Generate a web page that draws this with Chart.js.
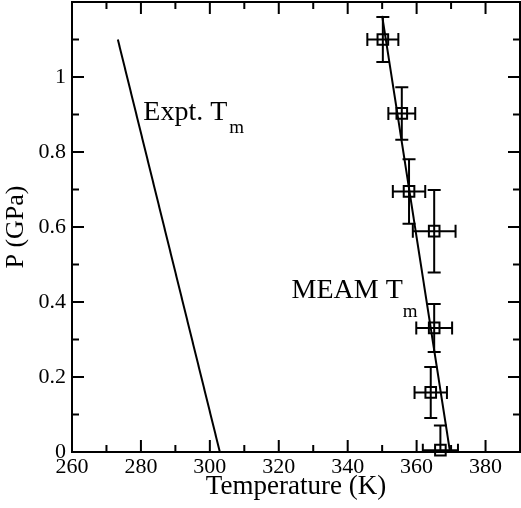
<!DOCTYPE html>
<html>
<head>
<meta charset="utf-8">
<script src="https://cdn.jsdelivr.net/npm/chart.js@4/dist/chart.umd.min.js"></script>
<style>
  html, body { margin: 0; padding: 0; background: #fff; }
  #wrap { width: 521px; height: 508px; position: relative; }
</style>
</head>
<body>
<div id="wrap"><canvas id="meltChart"></canvas></div>
<script>
// MEAM melting points with error bars
const meamT    = [350.2, 355.7, 357.8, 365.1, 365.1, 364.1, 366.9];
const meamP    = [1.100, 0.903, 0.695, 0.589, 0.331, 0.159, 0.005];
const meamTErr = [4.5, 3.9, 4.7, 6.2, 5.2, 4.7, 5.1];
const meamPErr = [0.060, 0.070, 0.086, 0.110, 0.064, 0.068, 0.066];

// fitted MEAM line and experimental melting line
const fitT  = [350.0, 369.7];
const fitP  = [1.163, 0];
const exptT = [273.3, 302.9];
const exptP = [1.10, 0];

// axes
const xLabelTicks = [260, 280, 300, 320, 340, 360, 380];
const xMinorTicks = [270, 290, 310, 330, 350, 370];
const yLabelTicks = [0, 0.2, 0.4, 0.6, 0.8, 1.0];
const yMinorTicks = [0.1, 0.3, 0.5, 0.7, 0.9, 1.1];

const FONT = "'Liberation Serif', 'Times New Roman', serif";

const toXY = (xs, ys) => xs.map((x, i) => ({ x, y: ys[i] }));

// no label overhang padding: the plot box is fixed
const noPad = s => { s.paddingTop = s.paddingBottom = s.paddingLeft = s.paddingRight = 0; };

// Inward tick marks on all four sides plus the frame
const frameTicks = {
  id: 'frameTicks',
  afterDraw(chart) {
    const { ctx, chartArea: a, scales: { x, y } } = chart;
    ctx.save();
    ctx.strokeStyle = '#000';
    ctx.lineWidth = 2;
    ctx.strokeRect(a.left, a.top, a.right - a.left, a.bottom - a.top);
    ctx.beginPath();
    const xt = (v, len) => {
      const px = x.getPixelForValue(v);
      ctx.moveTo(px, a.bottom); ctx.lineTo(px, a.bottom - len);
      ctx.moveTo(px, a.top);    ctx.lineTo(px, a.top + len);
    };
    const yt = (v, len) => {
      const py = y.getPixelForValue(v);
      ctx.moveTo(a.left, py);  ctx.lineTo(a.left + len, py);
      ctx.moveTo(a.right, py); ctx.lineTo(a.right - len, py);
    };
    xLabelTicks.forEach(v => xt(v, 12));
    xMinorTicks.forEach(v => xt(v, 7));
    yLabelTicks.forEach(v => yt(v, 12));
    yMinorTicks.forEach(v => yt(v, 7));
    ctx.stroke();
    ctx.restore();
  },
};

// Error bars for the MEAM points
const errorBars = {
  id: 'errorBars',
  afterDatasetsDraw(chart) {
    const { ctx, chartArea: a, scales: { x, y } } = chart;
    const cap = 6.5;
    ctx.save();
    ctx.beginPath();
    ctx.rect(a.left, a.top, a.right - a.left, a.bottom - a.top);
    ctx.clip();
    ctx.strokeStyle = '#000';
    ctx.lineWidth = 2;
    ctx.beginPath();
    meamT.forEach((t, i) => {
      const px = x.getPixelForValue(t);
      const py = y.getPixelForValue(meamP[i]);
      const y0 = y.getPixelForValue(meamP[i] - meamPErr[i]);
      const y1 = y.getPixelForValue(meamP[i] + meamPErr[i]);
      const x0 = x.getPixelForValue(t - meamTErr[i]);
      const x1 = x.getPixelForValue(t + meamTErr[i]);
      ctx.moveTo(px, y0); ctx.lineTo(px, y1);
      ctx.moveTo(px - cap, y0); ctx.lineTo(px + cap, y0);
      ctx.moveTo(px - cap, y1); ctx.lineTo(px + cap, y1);
      ctx.moveTo(x0, py); ctx.lineTo(x1, py);
      ctx.moveTo(x0, py - cap); ctx.lineTo(x0, py + cap);
      ctx.moveTo(x1, py - cap); ctx.lineTo(x1, py + cap);
    });
    ctx.stroke();
    ctx.restore();
  },
};

// "Expt. Tm" and "MEAM Tm" labels, anchored in data coordinates
const curveLabels = {
  id: 'curveLabels',
  afterDraw(chart) {
    const { ctx, scales: { x, y } } = chart;
    const put = (t, p, main, sub, gap, drop) => {
      const px = x.getPixelForValue(t);
      const py = y.getPixelForValue(p);
      ctx.font = `28px ${FONT}`;
      ctx.fillText(main, px, py);
      const w = ctx.measureText(main).width;
      ctx.font = `19px ${FONT}`;
      ctx.fillText(sub, px + w + gap, py + drop);
    };
    ctx.save();
    ctx.fillStyle = '#000';
    ctx.textBaseline = 'alphabetic';
    ctx.textAlign = 'left';
    put(280.7, 0.885, 'Expt. T', 'm', 2, 13);
    put(323.7, 0.412, 'MEAM T', 'm', 0, 19);
    ctx.restore();
  },
};

const ctx = document.getElementById('meltChart').getContext('2d');
new Chart(ctx, {
  type: 'scatter',
  data: {
    datasets: [
      {
        data: toXY(meamT, meamP),
        pointStyle: 'rect',
        pointRadius: 7.5,
        pointHoverRadius: 7.5,
        pointBorderWidth: 2,
        borderColor: '#000',
        backgroundColor: 'rgba(0,0,0,0)',
        showLine: false,
        clip: false,
      },
      {
        data: toXY(fitT, fitP),
        showLine: true,
        borderColor: '#000',
        borderWidth: 2,
        pointRadius: 0,
      },
      {
        data: toXY(exptT, exptP),
        showLine: true,
        borderColor: '#000',
        borderWidth: 2,
        pointRadius: 0,
      },
    ],
  },
  options: {
    responsive: true,
    maintainAspectRatio: false,
    devicePixelRatio: 1,
    animation: false,
    layout: { autoPadding: false, padding: { top: 2, right: 1, left: 0, bottom: 0 } },
    plugins: { legend: { display: false }, tooltip: { enabled: false } },
    scales: {
      x: {
        type: 'linear',
        min: 260,
        max: 390,
        afterFit: s => { s.height = 56; noPad(s); },
        afterBuildTicks: s => { s.ticks = xLabelTicks.map(value => ({ value })); },
        grid: { display: false, drawTicks: false },
        border: { display: false },
        ticks: {
          color: '#000',
          padding: 2,
          font: { family: FONT, size: 22 },
          callback: v => String(v),
        },
        title: {
          display: true,
          text: 'Temperature (K)',
          color: '#000',
          font: { family: FONT, size: 27 },
          padding: { top: 0, bottom: 5 },
        },
      },
      y: {
        type: 'linear',
        min: 0,
        max: 1.2,
        afterFit: s => { s.width = 72; noPad(s); },
        afterBuildTicks: s => { s.ticks = yLabelTicks.map(value => ({ value })); },
        grid: { display: false, drawTicks: false },
        border: { display: false },
        ticks: {
          color: '#000',
          padding: 6,
          font: { family: FONT, size: 22 },
          callback: v => String(v),
        },
        title: {
          display: true,
          text: 'P (GPa)',
          color: '#000',
          font: { family: FONT, size: 26 },
          padding: { top: 1, bottom: 0 },
        },
      },
    },
  },
  plugins: [errorBars, frameTicks, curveLabels],
});
</script>
</body>
</html>
